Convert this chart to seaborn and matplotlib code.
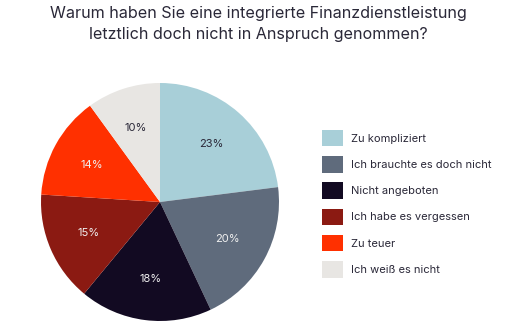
import matplotlib
matplotlib.use("Agg")
import matplotlib.pyplot as plt
import seaborn as sns

categories = ["Zu kompliziert", "Ich brauchte es doch nicht", "Nicht angeboten",
              "Ich habe es vergessen", "Zu teuer", "Ich weiß es nicht"]
values = [23, 20, 18, 15, 14, 10]
colors = ["#a8cfd8", "#5f6b7c", "#120a22", "#8b1a12", "#ff3000", "#e8e6e3"]
label_colors = ["#2a2838", "#f0f0f0", "#f0f0f0", "#f0f0f0", "#f0f0f0", "#2a2838"]
title = "Warum haben Sie eine integrierte Finanzdienstleistung\nletztlich doch nicht in Anspruch genommen?"

sns.set_theme(style="white")
plt.rcParams["font.family"] = ["Inter", "DejaVu Sans"]

W, H = 516, 323
fig = plt.figure(figsize=(W / 100, H / 100), dpi=100)
cx, cy, r = 160, 202, 119
ax = fig.add_axes([(cx - r) / W, 1 - (cy + r) / H, 2 * r / W, 2 * r / H])

wedges, texts, autotexts = ax.pie(
    values, colors=colors, startangle=90, counterclock=False,
    autopct=lambda p: f"{p:.0f}%", pctdistance=0.65,
    textprops=dict(fontsize=8), wedgeprops=dict(linewidth=0))
for t, c in zip(autotexts, label_colors):
    t.set_color(c)
ax.set_xlim(-1, 1)
ax.set_ylim(-1, 1)
ax.set_aspect("equal")
ax.axis("off")

fig.text(0.5, 1 - 24 / H, title, ha="center", va="center", fontsize=11.6,
         color="#2a2838", linespacing=1.55)

leg = fig.legend(wedges, categories, loc="upper left",
                 bbox_to_anchor=(312 / W, 1 - 120 / H), frameon=False,
                 fontsize=8, handlelength=1.9, handleheight=1.9,
                 labelspacing=0.88, handletextpad=0.75, labelcolor="#2a2838")
fig.savefig("out.png", dpi=100)
